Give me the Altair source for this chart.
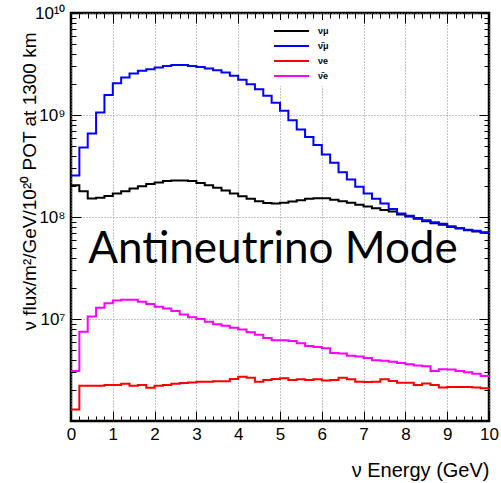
import altair as alt
import pandas as pd

# ---------------- data ----------------
bin_width = 0.2
energy_lo = [round(bin_width * i, 1) for i in range(50)]  # bin lower edges, GeV

numu = [2.05e8, 1.79e8, 1.52e8, 1.54e8, 1.61e8, 1.70e8, 1.79e8, 1.90e8, 2.00e8, 2.11e8,
        2.18e8, 2.25e8, 2.28e8, 2.28e8, 2.25e8, 2.16e8, 2.05e8, 1.93e8, 1.82e8, 1.70e8,
        1.60e8, 1.51e8, 1.43e8, 1.37e8, 1.36e8, 1.38e8, 1.42e8, 1.46e8, 1.51e8, 1.53e8,
        1.53e8, 1.48e8, 1.43e8, 1.38e8, 1.32e8, 1.27e8, 1.22e8, 1.17e8, 1.13e8, 1.06e8,
        1.01e8, 9.6e7, 9.1e7, 8.7e7, 8.4e7, 8.0e7, 7.7e7, 7.4e7, 7.2e7, 7.0e7]

numubar = [2.55e8, 4.8e8, 6.6e8, 1.06e9, 1.57e9, 2.05e9, 2.33e9, 2.55e9, 2.71e9, 2.81e9,
           2.92e9, 3.03e9, 3.10e9, 3.10e9, 3.03e9, 2.96e9, 2.86e9, 2.75e9, 2.61e9, 2.42e9,
           2.21e9, 2.00e9, 1.79e9, 1.54e9, 1.32e9, 1.10e9, 8.9e8, 7.2e8, 6.1e8, 5.07e8,
           4.11e8, 3.4e8, 2.75e8, 2.33e8, 1.98e8, 1.70e8, 1.51e8, 1.36e8, 1.20e8, 1.08e8,
           1.03e8, 9.8e7, 9.3e7, 8.9e7, 8.6e7, 8.1e7, 7.8e7, 7.5e7, 7.35e7, 7.1e7]

nue = [1.3e6, 2.21e6, 2.21e6, 2.21e6, 2.26e6, 2.26e6, 2.32e6, 2.21e6, 2.26e6, 2.12e6,
       2.21e6, 2.26e6, 2.32e6, 2.36e6, 2.39e6, 2.43e6, 2.43e6, 2.46e6, 2.46e6, 2.58e6,
       2.72e6, 2.66e6, 2.43e6, 2.52e6, 2.58e6, 2.62e6, 2.52e6, 2.56e6, 2.52e6, 2.56e6,
       2.49e6, 2.52e6, 2.66e6, 2.56e6, 2.43e6, 2.41e6, 2.43e6, 2.57e6, 2.47e6, 2.37e6,
       2.37e6, 2.25e6, 2.33e6, 2.25e6, 2.13e6, 2.16e6, 2.16e6, 2.16e6, 2.13e6, 2.10e6]

nuebar = [3.09e6, 7.5e6, 1.06e7, 1.29e7, 1.43e7, 1.52e7, 1.54e7, 1.54e7, 1.48e7, 1.40e7,
          1.32e7, 1.27e7, 1.20e7, 1.11e7, 1.04e7, 1.0e7, 9.4e6, 8.9e6, 8.6e6, 8.2e6,
          7.9e6, 7.4e6, 7.0e6, 6.5e6, 6.2e6, 6.2e6, 6.1e6, 5.78e6, 5.45e6, 5.3e6,
          5.17e6, 4.65e6, 4.6e6, 4.37e6, 4.3e6, 4.15e6, 3.95e6, 3.9e6, 3.8e6, 3.7e6,
          3.6e6, 3.5e6, 3.45e6, 3.09e6, 3.21e6, 3.2e6, 3.1e6, 3.0e6, 2.9e6, 2.76e6]

series_names = ["\u03bd\u03bc", "\u03bd\u0304\u03bc", "\u03bde", "\u03bd\u0304e"]
series_values = [numu, numubar, nue, nuebar]
series_colors = ["#000000", "#0000ff", "#ff0000", "#ff00ff"]

x_major = list(range(0, 11))
x_minor = [round(0.2 * i, 1) for i in range(51) if i % 5 != 0]
y_labels = [1e7, 1e8, 1e9, 1e10]
y_major = [1e6, 1e7, 1e8, 1e9, 1e10]
y_minor = [m * 10 ** e for e in range(6, 10) for m in range(2, 10)]

annotation = ["Antineutrino Mode"]
x_title = "\u03bd Energy (GeV)"
y_title = "\u03bd flux/m\u00b2/GeV/10\u00b2\u2070 POT at 1300 km"

# ---------------- table ----------------
rows = []
edges = energy_lo + [10.0]
for name, vals in zip(series_names, series_values):
    for i, e in enumerate(edges):
        rows.append({"series": name, "E": e, "flux": vals[min(i, len(vals) - 1)]})
df = pd.DataFrame(rows)

W, H = 418, 408
FONT = "Liberation Sans"

xs = alt.Scale(domain=[0, 10], nice=False, zero=False)
ys = alt.Scale(type="log", domain=[1e6, 1e10], nice=False)

label_expr = ("datum.value > 5e9 ? '10\u00b9\u2070' : datum.value > 5e8 ? '10\u2079' : "
              "datum.value > 5e7 ? '10\u2078' : '10\u2077'")

lines = alt.Chart(df).mark_line(interpolate="step-after", strokeWidth=2).encode(
    x=alt.X("E:Q", scale=xs, axis=alt.Axis(
        values=x_major, grid=True, gridDash=[1, 2], gridColor="#8a8a8a", gridWidth=1,
        ticks=False, tickSize=0, domain=False, labelFlush=False,
        labelFont=FONT, labelFontSize=17, labelColor="black", labelPadding=5,
        title=x_title, titleFont=FONT, titleFontSize=20, titleFontWeight="normal",
        titleColor="black", titleAnchor="end", titleAlign="right",
        titleX=W, titleY=55, titleBaseline="alphabetic")),
    y=alt.Y("flux:Q", scale=ys, axis=alt.Axis(
        values=y_labels, labelExpr=label_expr, grid=True, gridDash=[1, 2],
        gridColor="#8a8a8a", gridWidth=1, ticks=False, tickSize=0, domain=False,
        labelFont=FONT, labelFontSize=17, labelColor="black", labelPadding=6,
        title=y_title, titleFont=FONT, titleFontSize=19, titleFontWeight="normal",
        titleColor="black", titleX=-36, titleY=168, titleAlign="center",
        titleBaseline="alphabetic", titleAngle=-90)),
    color=alt.Color("series:N", scale=alt.Scale(domain=series_names, range=series_colors),
                    legend=alt.Legend(orient="none", legendX=197, legendY=7, title=None,
                                      symbolType="M-1,0H6", symbolSize=100,
                                      symbolStrokeWidth=2, labelFont=FONT, labelFontSize=9,
                                      labelFontWeight="bold", labelColor="black",
                                      labelOffset=33, fillColor="white", padding=5,
                                      rowPadding=4)),
)


def tick_layer(channel, orient, values, size):
    ax = alt.Axis(orient=orient, values=values, offset=-size, tickSize=size, ticks=True,
                  labels=False, domain=False, grid=False, tickColor="black",
                  tickWidth=1, title=None)
    base = alt.Chart(df).mark_point(opacity=0)
    if channel == "x":
        return base.encode(x=alt.X("E:Q", scale=xs, axis=ax),
                           y=alt.Y("flux:Q", scale=ys, axis=None))
    return base.encode(x=alt.X("E:Q", scale=xs, axis=None),
                       y=alt.Y("flux:Q", scale=ys, axis=ax))


ticks = [
    tick_layer("x", "bottom", x_major, 10),
    tick_layer("x", "bottom", x_minor, 5),
    tick_layer("x", "top", x_major, 10),
    tick_layer("x", "top", x_minor, 5),
    tick_layer("y", "left", y_major, 10),
    tick_layer("y", "left", y_minor, 5),
    tick_layer("y", "right", y_major, 10),
    tick_layer("y", "right", y_minor, 5),
]

text = alt.Chart(pd.DataFrame({"label": annotation})).mark_text(
    font="Lato", fontSize=44, color="black", align="center", baseline="alphabetic"
).encode(x=alt.value(202), y=alt.value(250), text="label:N")

chart = alt.layer(lines, *ticks, text).resolve_axis(
    x="independent", y="independent"
).properties(
    width=W, height=H,
    padding={"left": 71, "top": 13, "right": 12, "bottom": 62},
    autosize=alt.AutoSizeParams(type="none"),
    background="white",
).configure_view(stroke="black", strokeWidth=2.5)

chart.save("out.html", embed_options={"renderer": "svg", "actions": False})
